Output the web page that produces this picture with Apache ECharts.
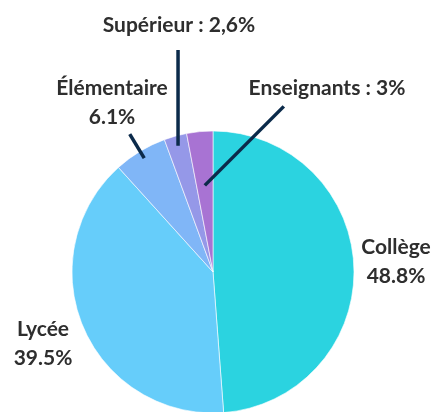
<!DOCTYPE html>
<html>
<head>
<meta charset="utf-8">
<script src="https://cdn.jsdelivr.net/npm/echarts@6/dist/echarts.min.js"></script>
<style>
  html, body { margin: 0; padding: 0; background: #fff; }
  #chart { width: 436px; height: 412px; }
</style>
</head>
<body>
<div id="chart"></div>
<script>
// data
const categories = ['Collège', 'Lycée', 'Élémentaire', 'Supérieur', 'Enseignants'];
const shares = [48.8, 39.5, 6.1, 2.6, 3];
const shareLabels = ['48.8%', '39.5%', '6.1%', '2,6%', '3%'];
const sliceColors = ['#2bd3e0', '#66cdfa', '#80b6f7', '#9598e8', '#a873d3'];

// layout of the pie and its labels
const cx = 213, cy = 272, R = 141;
const labelSpots = [[396, 262], [43, 344], [112, 103], [179, 25], [327, 88]];
const oneLine = [false, false, false, true, true];

const total = shares.reduce((a, b) => a + b, 0);
// mid angle of each slice, clockwise from top, in radians
const midAngles = [];
let acc = 0;
shares.forEach(v => {
    midAngles.push((acc + v / 2) / total * Math.PI * 2);
    acc += v;
});
function onSlice(i, r) {
    return [cx + r * Math.sin(midAngles[i]), cy - r * Math.cos(midAngles[i])];
}
// leader lines start inside the slices
function leaderLine(i) {
    if (i === 2) return [onSlice(i, 133), onSlice(i, 161)];
    if (i === 3) {
        const p = onSlice(i, 131);
        return [p, [p[0], 50]];
    }
    if (i === 4) {
        const p = onSlice(i, 87);
        return [p, [p[0] + 79, p[1] - 79]];
    }
    return null;
}

const leaders = [];
categories.forEach((c, i) => {
    const pts = leaderLine(i);
    if (pts) {
        leaders.push({
            type: 'polyline',
            z: 100,
            silent: true,
            shape: { points: pts },
            style: { stroke: '#0b2a4a', lineWidth: 3.5, fill: null }
        });
    }
});

const chart = echarts.init(document.getElementById('chart'));

chart.setOption({
    animation: false,
    graphic: leaders,
    series: [{
        type: 'pie',
        center: [cx, cy],
        radius: R,
        startAngle: 90,
        clockwise: true,
        avoidLabelOverlap: false,
        itemStyle: { borderColor: '#ffffff', borderWidth: 0.6 },
        label: {
            show: true,
            position: 'outside',
            color: '#2e2e2e',
            fontFamily: 'Lato',
            fontWeight: 'bold',
            fontSize: 21,
            lineHeight: 29,
            align: 'center',
            formatter: p => oneLine[p.dataIndex]
                ? p.name + ' : ' + shareLabels[p.dataIndex]
                : p.name + '\n' + shareLabels[p.dataIndex]
        },
        labelLine: { show: false },
        labelLayout: params => ({
            x: labelSpots[params.dataIndex][0],
            y: labelSpots[params.dataIndex][1],
            align: 'center',
            verticalAlign: 'middle'
        }),
        data: categories.map((name, i) => ({
            name: name,
            value: shares[i],
            itemStyle: { color: sliceColors[i] }
        }))
    }]
});
</script>
</body>
</html>
